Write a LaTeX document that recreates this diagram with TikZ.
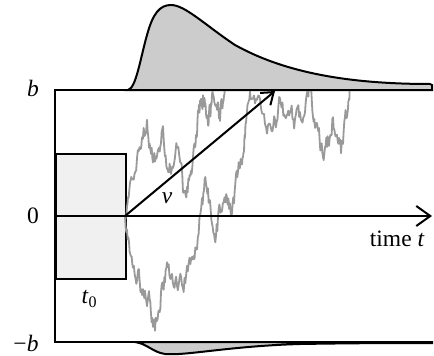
\documentclass[tikz,border=0pt]{standalone}
\usepackage{fontspec}
\setmainfont{Liberation Serif}
\usetikzlibrary{arrows.meta}
\pgfmathsetseed{11}
\newcommand\mkwalk[3]{%
  \gdef\wk{}\gdef\wn{0}\gdef\wfirst{1}%
  \foreach \xx/\yy in {#3} {%
    \ifnum\wfirst=1
      \xdef\wk{(\xx,\yy)}\gdef\wfirst{0}%
    \else
      \foreach \k in {1,...,6} {%
        \pgfmathsetmacro\wnn{0.6*\wn+#2*rand}%
        \xdef\wn{\wnn}%
        \pgfmathsetmacro\px{\wpx+(\xx-\wpx)*\k/6}%
        \pgfmathsetmacro\py{\wpy+(\yy-\wpy)*\k/6+\wn}%
        \xdef\wk{\wk -- (\px,\py)}%
      }%
    \fi
    \xdef\wpx{\xx}\xdef\wpy{\yy}%
  }%
  \global\let#1\wk
}
\mkwalk\walkA{9}{125/216, 128/200, 132/182, 137/150, 142/132, 147/124, 151/150, 155/165, 159/140, 163/132, 167/160, 171/168, 175/145, 179/150, 183/188, 187/184, 191/175, 195/150, 198/120, 201/102, 204/95, 207/125, 210/115, 213/97, 217/105, 220/115, 223/98, 226/88}
\mkwalk\walkB{9}{125/216, 129/240, 133/262, 138/275, 143/292, 147/300, 151/310, 155/323, 159/300, 163/285, 167/272, 172/282, 177/278, 182/288, 187/275, 192/262, 197/235, 202/200, 206/180, 210/205, 214/245, 218/222, 222/200, 227/192, 230/215, 234/205, 238/175, 242/160, 245/130, 248/112, 252/95, 258/100, 264/110, 270/135, 275/125, 280/105, 285/115, 290/110, 295/120, 300/115, 305/100, 309/92, 313/110, 317/133, 321/145, 325/153, 329/140, 333/118, 337/135, 341/148, 345/130, 348/105, 350/95}
\tikzset{
  thick line/.style={line width=2pt, black},
  walk/.style={line width=1.8pt, color=black!40, line join=round},
  lbl/.style={font=\fontsize{23.5}{27}\selectfont, inner sep=0pt},
  tip/.style={-{Straight Barb[length=14pt, width=20pt, line width=2pt]}},
}
\begin{document}
\begin{tikzpicture}[x=1pt,y=-1pt]
\useasboundingbox (0,0) rectangle (434,356);
% upper density
\draw[thick line, fill=black!20] (128,90) .. controls (136,88) and (140,60) .. (147,35)
  .. controls (153,13) and (160,5) .. (171,5)
  .. controls (185,5) and (205,25) .. (235,45)
  .. controls (280,70) and (340,84) .. (430,84)
  -- (432,85) -- (432,90) -- cycle;
% lower density
\draw[thick line, fill=black!20] (135,342) .. controls (148,344) and (152,352) .. (165,354)
  .. controls (185,356) and (230,346) .. (300,344)
  .. controls (360,343) and (400,343) .. (432,343) -- (432,342) -- cycle;
% t0 box
\node[draw, line width=2pt, fill=black!6, minimum width=70pt, minimum height=125pt, inner sep=0pt, anchor=north west] (box) at (55,153) {};
% walks
\begin{scope}
\clip (55,90) rectangle (432,342);
\draw[walk] \walkA;
\draw[walk] \walkB;
\end{scope}
% frame
\coordinate (tl) at (55,90);
\coordinate (tr) at (432,90);
\coordinate (bl) at (55,342);
\coordinate (br) at (432,342);
\coordinate (o) at (125,216);
\coordinate (zl) at (55,216);
\coordinate (zr) at (432,216);
\coordinate (dv) at (275,91);
\draw[thick line] (tr) -- (tl) -- (bl) -- (br);
\draw[thick line, tip] (zl) -- (zr);
\draw[thick line, -{Straight Barb[length=11pt, width=16pt, line width=2pt]}] (o) -- (dv);
% labels
\node[lbl] (lb) at (33,88) {\itshape b};
\node[lbl] (l0) at (33,216) {0};
\node[lbl] (lmb) at (26,343) {−\itshape b};
\node[lbl] (lt0) at (89,299) {\itshape t\textup{\fontsize{16}{18}\selectfont\raisebox{-4pt}{0}}};
\node[lbl, anchor=base] (ltime) at (397,246) {time \itshape t};
\node[lbl] (lv) at (167,198) {\itshape v};
\end{tikzpicture}
\end{document}
